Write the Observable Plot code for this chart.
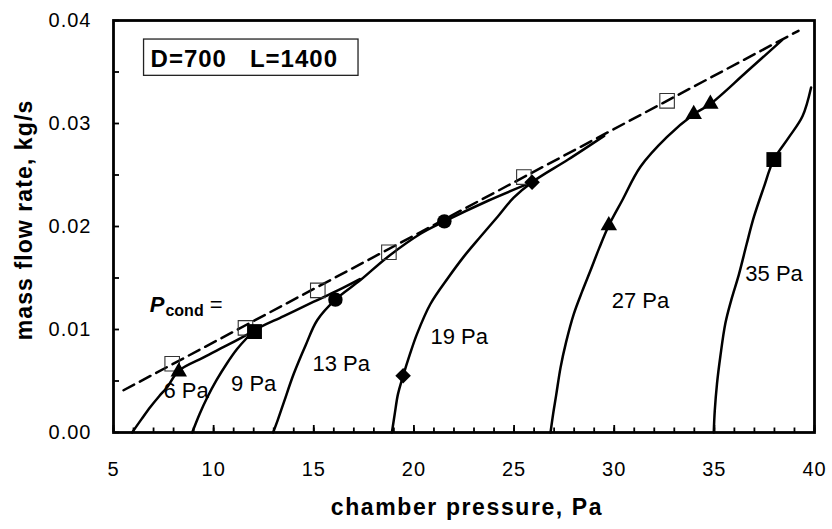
<!DOCTYPE html>
<html>
<head>
<meta charset="utf-8">
<script src="https://cdn.jsdelivr.net/npm/d3@7"></script>
<script src="https://cdn.jsdelivr.net/npm/@observablehq/plot@0.6"></script>
<style>
  body { margin: 0; background: #fff; }
  #chart svg { display: block; }
</style>
</head>
<body>
<div id="chart"></div>
<script>
// ---- data: chamber pressure (Pa) vs mass flow rate (kg/s), one curve per condenser pressure ----
const condPressures = [6, 9, 13, 19, 27, 35];

const p6  = [5.93, 6.4, 6.85, 7.27, 7.68, 8.26, 9.5, 10.8, 12.04];
const m6  = [0, 0.0013, 0.0025, 0.0035, 0.0044, 0.0060, 0.0073, 0.0086, 0.0099];

const p9  = [8.93, 9.3, 9.68, 10.15, 10.66, 11.17, 11.67, 12.04, 13.5, 15.0, 16.2, 17.3];
const m9  = [0, 0.0018, 0.0034, 0.0051, 0.0067, 0.0081, 0.0092, 0.0099, 0.0113, 0.0127, 0.0138, 0.0149];

const p13 = [12.97, 13.2, 13.5, 14.0, 14.6, 15.17, 16.08, 17.33, 18.66, 20.33, 21.52, 23.7, 25.9];
const m13 = [0, 0.0012, 0.0029, 0.0057, 0.0085, 0.0109, 0.0129, 0.0148, 0.0170, 0.0193, 0.0205, 0.0225, 0.0243];

const p19 = [18.9, 19.05, 19.2, 19.46, 19.8, 20.16, 20.83, 21.7, 22.5, 23.32, 24.2, 24.98, 25.9, 27.7, 29.5];
const m19 = [0, 0.0019, 0.0037, 0.0055, 0.0076, 0.0096, 0.0125, 0.0150, 0.0171, 0.0190, 0.0210, 0.0228, 0.0243, 0.0265, 0.0288];

const p27 = [26.82, 26.95, 27.1, 27.32, 27.6, 27.98, 28.4, 28.81, 29.25, 29.73, 30.39, 31.31, 32.64, 33.97, 34.8, 36.6, 38.38];
const m27 = [0, 0.0018, 0.0036, 0.0063, 0.0088, 0.0115, 0.0137, 0.0157, 0.0179, 0.0201, 0.0225, 0.0258, 0.0287, 0.0309, 0.0319, 0.0350, 0.0381];

const p35 = [34.97, 35.02, 35.13, 35.3, 35.55, 35.85, 36.22, 36.6, 36.97, 37.45, 37.97, 38.7, 39.4, 39.83];
const m35 = [0, 0.0021, 0.0047, 0.0074, 0.0106, 0.0129, 0.0153, 0.0182, 0.0209, 0.0237, 0.0265, 0.0286, 0.0307, 0.0335];

// condenser-pressure line (dashed) and its open-square points
const condLineP = [5.5, 39.2];
const condLineM = [0.0041, 0.0390];
const condSqP = [7.93, 11.59, 15.2, 18.75, 25.49, 32.64];
const condSqM = [0.00667, 0.01016, 0.0138, 0.0175, 0.0248, 0.0322];

// filled markers
const triP = [8.26, 29.73, 33.97, 34.8];
const triM = [0.0059, 0.0201, 0.0309, 0.0319];
const sqP  = [12.04, 37.97];
const sqM  = [0.0098, 0.0265];
const cirP = [16.08, 21.52];
const cirM = [0.0129, 0.0205];
const diaP = [19.46, 25.9];
const diaM = [0.0055, 0.0243];

// curve labels
const labelText = ["6 Pa", "9 Pa", "13 Pa", "19 Pa", "27 Pa", "35 Pa"];
const labelP = [8.62, 12.0, 16.37, 22.26, 31.31, 37.98];
const labelM = [0.00408, 0.00473, 0.00667, 0.0093, 0.01277, 0.01536];

// annotations
const boxText = "D=700   L=1400";
const boxP = [6.85];
const boxM = [0.03621];
const pcondText = "Pcond =";
const pcondP = [6.81];
const pcondM = [0.01236];

// axes
const xMajor = [5, 10, 15, 20, 25, 30, 35, 40];
const xMinor = d3.range(5, 41, 1);
const yLabels = [0, 0.01, 0.02, 0.03, 0.04];
const yMinor = [0, 0.005, 0.01, 0.015, 0.02, 0.025, 0.03, 0.035, 0.04];
const xTitle = "chamber pressure, Pa";
const yTitle = "mass flow rate, kg/s";

// ---- build tables ----
const curveP = [p6, p9, p13, p19, p27, p35];
const curveM = [m6, m9, m13, m19, m27, m35];
const curveRows = condPressures.flatMap((pc, i) => curveP[i].map((p, j) => ({pc, p, m: curveM[i][j]})));
const zip = (a, b) => a.map((p, i) => ({p, m: b[i]}));
const condLine = zip(condLineP, condLineM);
const condSq = zip(condSqP, condSqM);
const tri = zip(triP, triM), sq = zip(sqP, sqM), cir = zip(cirP, cirM), dia = zip(diaP, diaM);
const labels = labelText.map((t, i) => ({t, p: labelP[i], m: labelM[i]}));
const boxRows = [{t: boxText, p: boxP[0], m: boxM[0]}];
const pcondRows = [{t: pcondText, p: pcondP[0], m: pcondM[0]}];

const FONT = "'Liberation Sans', Arial, Helvetica, sans-serif";
const M = {left: 113, right: 18, top: 20, bottom: 97};

const chart = Plot.plot({
  width: 832,
  height: 529,
  marginLeft: M.left,
  marginRight: M.right,
  marginTop: M.top,
  marginBottom: M.bottom,
  x: {domain: [5, 40]},
  y: {domain: [0, 0.04]},
  style: {fontFamily: FONT, background: "white", color: "black", overflow: "visible"},
  marks: [
    Plot.axisX(xMinor, {tickSize: -4.5, fill: null, strokeWidth: 1.8, label: null}),
    Plot.axisX(xMajor, {tickSize: -7, fill: null, strokeWidth: 1.8, label: null}),
    Plot.axisX(xMajor, {tickSize: 0, tickPadding: 29, fontSize: 20, tickFormat: d3.format("d"), label: null}),
    Plot.axisY(yMinor, {tickSize: -6, fill: null, strokeWidth: 1.8, label: null}),
    Plot.axisY(yLabels, {tickSize: 0, tickPadding: 22, fontSize: 20, tickFormat: d3.format(".2f"), label: null}),
    Plot.line(condLine, {x: "p", y: "m", stroke: "black", strokeWidth: 2.5, strokeDasharray: "12,6.5"}),
    Plot.line(curveRows, {x: "p", y: "m", z: "pc", curve: "catmull-rom", stroke: "black", strokeWidth: 2.5}),
    Plot.dot(condSq, {x: "p", y: "m", symbol: "square", r: 8.2, fill: "none", stroke: "#333", strokeWidth: 1.1}),
    Plot.dot(tri, {x: "p", y: "m", symbol: "triangle", r: 6.1, fill: "black", stroke: "none"}),
    Plot.dot(sq, {x: "p", y: "m", symbol: "square", r: 8.4, fill: "black", stroke: "none"}),
    Plot.dot(cir, {x: "p", y: "m", symbol: "circle", r: 7.2, fill: "black", stroke: "none"}),
    Plot.dot(dia, {x: "p", y: "m", symbol: "diamond2", r: 7.0, fill: "black", stroke: "none"}),
    Plot.frame({stroke: "black", strokeWidth: 2.8}),
    Plot.text(labels, {x: "p", y: "m", text: "t", fontSize: 22, fill: "black"}),
    Plot.text(boxRows, {x: "p", y: "m", text: "t", textAnchor: "start", fontSize: 24, fontWeight: "bold", fill: "black"}),
    Plot.text(pcondRows, {x: "p", y: "m", text: "t", textAnchor: "start", fontSize: 22, fontWeight: "bold", fill: "black"}),
    Plot.text([xTitle], {text: d => d, frameAnchor: "bottom", dy: 82, dx: 3, fontSize: 23, fontWeight: "bold", fill: "black"}),
    Plot.text([yTitle], {text: d => d, frameAnchor: "left", rotate: -90, fontSize: 23, fontWeight: "bold", fill: "black"})
  ]
});

document.getElementById("chart").append(chart);

// ---- post styling ----
const svg = d3.select(chart);
const XMLNS = "http://www.w3.org/XML/1998/namespace";
svg.selectAll("g[aria-label$='tick label'] text").style("letter-spacing", "1px");
let boxEl = null;
svg.selectAll("text").each(function () {
  const t = this.textContent;
  if (t === xTitle) d3.select(this).style("letter-spacing", "1.6px");
  if (t === yTitle) {
    // place the rotated axis title explicitly: centred on the frame, left of the tick labels
    const cy = (M.top + (529 - M.bottom)) / 2 - 6;
    const cx = M.left - 88;
    const g = this.parentNode;
    if (g && g.tagName === "g") g.removeAttribute("transform");
    this.removeAttribute("x");
    this.removeAttribute("y");
    this.removeAttribute("dx");
    this.setAttribute("dy", "0.32em");
    this.setAttribute("text-anchor", "middle");
    this.setAttribute("transform", `translate(${cx},${cy}) rotate(-90)`);
    d3.select(this).style("letter-spacing", "1.1px");
  }
  if (t === boxText) {
    boxEl = this;
    this.setAttributeNS(XMLNS, "xml:space", "preserve");
    d3.select(this).style("white-space", "pre").style("letter-spacing", "1px");
  }
  if (t === pcondText) {
    const el = d3.select(this);
    el.text(null);
    el.append("tspan").attr("font-style", "italic").attr("font-weight", "bold").text("P");
    el.append("tspan").attr("font-size", 16).attr("font-weight", "bold").attr("dy", 4).attr("dx", 1).text("cond");
    el.append("tspan").attr("font-weight", "normal").attr("dy", -4).text("\u00a0=");
  }
});
if (boxEl) {
  const sr = chart.getBoundingClientRect();
  const r = boxEl.getBoundingClientRect();
  const yPx = chart.scale("y").apply(boxM[0]);
  svg.append("rect")
    .attr("x", r.left - sr.left - 7)
    .attr("y", yPx - 20)
    .attr("width", r.width + 27)
    .attr("height", 36.3)
    .attr("fill", "none")
    .attr("stroke", "#222")
    .attr("stroke-width", 1.3);
}
</script>
</body>
</html>
